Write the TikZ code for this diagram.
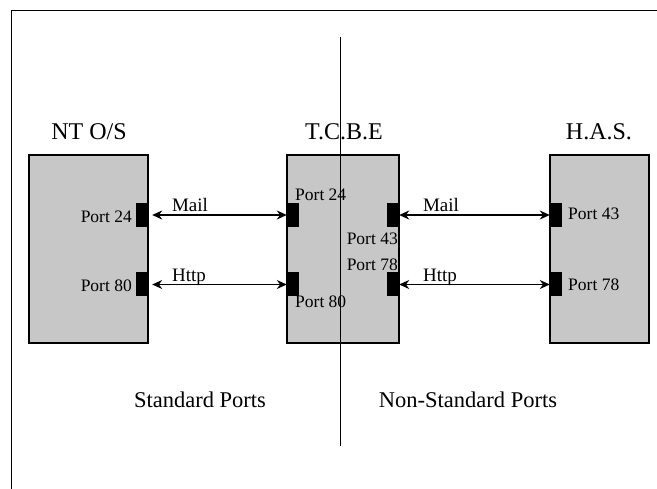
\documentclass[tikz,border=0pt]{standalone}
\usepackage{fontspec}
\setmainfont{Liberation Serif}
\usetikzlibrary{arrows.meta}
\begin{document}
\begin{tikzpicture}[x=1pt,y=-1pt,
  sysbox/.style={draw,line width=1.3pt,fill=black!22,inner sep=0pt,minimum height=188pt},
  portblk/.style={fill=black,draw=none,inner sep=0pt,minimum width=12pt,minimum height=24pt},
  title/.style={font=\fontsize{24}{26}\selectfont,inner sep=0pt,anchor=base},
  region/.style={font=\fontsize{22.5}{24}\selectfont,inner sep=0pt,anchor=base},
  portlbl/.style={font=\fontsize{17.5}{19}\selectfont,inner sep=0pt},
  linklbl/.style={font=\fontsize{19}{21}\selectfont,inner sep=0pt,anchor=base},
  link/.style={line width=1.2pt,{Stealth[length=10pt,width=9pt]}-{Stealth[length=10pt,width=9pt]}}
]
\useasboundingbox (0,0) rectangle (657,489);
% frame
\coordinate (ftr) at (670,10.5);
\coordinate (ftl) at (11,10.5);
\coordinate (fbl) at (11,500);
\draw[line width=0.8pt] (ftr) -- (ftl) -- (fbl);

% system boxes
\node[sysbox,minimum width=119pt] (nt) at (88.5,249) {};
\node[sysbox,minimum width=112pt] (tcbe) at (343,249) {};
\node[sysbox,minimum width=99pt] (has) at (599.5,249) {};

% titles
\node[title] (tnt) at (89,140) {NT O/S};
\node[title] (ttc) at (344,140) {T.C.B.E};
\node[title] (thas) at (599,140) {H.A.S.};

% port blocks
\node[portblk] (nt24) at (142,215) {};
\node[portblk] (nt80) at (142,284.5) {};
\node[portblk] (tl24) at (293,215) {};
\node[portblk] (tl80) at (293,284.5) {};
\node[portblk] (tr43) at (393,215) {};
\node[portblk] (tr78) at (393,284.5) {};
\node[portblk] (h43) at (556,215) {};
\node[portblk] (h78) at (556,284.5) {};

% links
\draw[link] ([xshift=4pt]nt24.east) -- (tl24.west);
\draw[link] ([xshift=4pt]nt80.east) -- (tl80.west);
\draw[link] (tr43.east) -- (h43.west);
\draw[link] (tr78.east) -- (h78.west);

\node[linklbl] (m1) at (190,212) {Mail};
\node[linklbl] (h1) at (189,282) {Http};
\node[linklbl] (m2) at (441,212) {Mail};
\node[linklbl] (h2) at (440,282) {Http};

% port labels
\node[portlbl,anchor=base east] (p1) at (132,223) {Port 24};
\node[portlbl,anchor=base east] (p2) at (132,292) {Port 80};
\node[portlbl,anchor=base west] (p3) at (295,201) {Port 24};
\node[portlbl,anchor=base west] (p4) at (295,308) {Port 80};
\node[portlbl,anchor=base east] (p5) at (398,245) {Port 43};
\node[portlbl,anchor=base east] (p6) at (398,271) {Port 78};
\node[portlbl,anchor=base west] (p7) at (568,220) {Port 43};
\node[portlbl,anchor=base west] (p8) at (568,291) {Port 78};

% divider
\coordinate (dtop) at (340.5,37);
\coordinate (dbot) at (340.5,446);
\draw[line width=0.9pt] (dtop) -- (dbot);

% region labels
\node[region] (std) at (200,408) {Standard Ports};
\node[region] (nstd) at (468,408) {Non-Standard Ports};
\end{tikzpicture}
\end{document}
